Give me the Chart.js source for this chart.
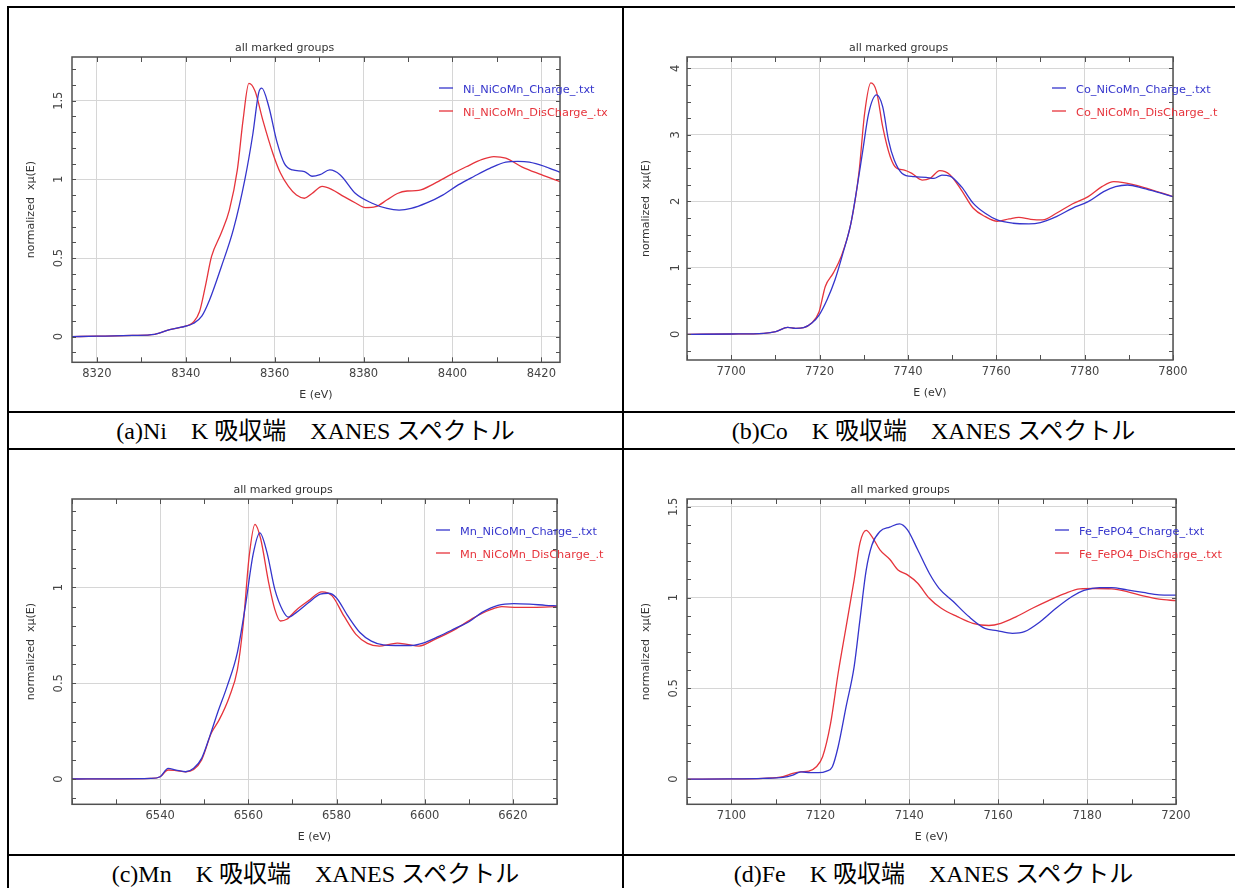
<!DOCTYPE html>
<html>
<head>
<meta charset="utf-8">
<title>XANES spectra</title>
<script src="https://cdn.jsdelivr.net/npm/chart.js@4.4.0/dist/chart.umd.min.js"></script>
<style>
  body { margin: 0; background: #fff; width: 1235px; height: 888px; overflow: hidden; position: relative; }
  .rule { position: absolute; background: #000; }
  canvas { position: absolute; }
  .cap { position: absolute; text-align: center; white-space: pre; color: #000;
         font-family: "Liberation Serif", "Noto Sans CJK JP", serif; font-size: 24px; line-height: 24px; }
</style>
</head>
<body>
<div class="rule" style="left:7px;top:6px;width:1228px;height:2px"></div>
<div class="rule" style="left:7px;top:6px;width:2px;height:882px"></div>
<div class="rule" style="left:622px;top:6px;width:2px;height:882px"></div>
<div class="rule" style="left:7px;top:411px;width:1228px;height:2px"></div>
<div class="rule" style="left:7px;top:448px;width:1228px;height:2px"></div>
<div class="rule" style="left:7px;top:854px;width:1228px;height:2px"></div>

<canvas id="ni" width="613" height="403" style="left:9px;top:8px"></canvas>
<canvas id="co" width="611" height="403" style="left:624px;top:8px"></canvas>
<canvas id="mn" width="613" height="404" style="left:9px;top:450px"></canvas>
<canvas id="fe" width="611" height="404" style="left:624px;top:450px"></canvas>

<div class="cap" style="left:9px;width:613px;top:419px">(a)Ni　K 吸収端　XANES スペクトル</div>
<div class="cap" style="left:624px;width:619px;top:419px">(b)Co　K 吸収端　XANES スペクトル</div>
<div class="cap" style="left:9px;width:613px;top:862px">(c)Mn　K 吸収端　XANES スペクトル</div>
<div class="cap" style="left:624px;width:619px;top:862px">(d)Fe　K 吸収端　XANES スペクトル</div>

<script>
// ---- data ----
var niTicksX = [8320, 8340, 8360, 8380, 8400, 8420];
var niTicksY = [0, 0.5, 1, 1.5];
var niLabels = ['Ni_NiCoMn_Charge_.txt', 'Ni_NiCoMn_DisCharge_.tx'];
var niChargeE = [8314.4, 8320, 8328, 8333, 8336.4, 8339, 8341.8, 8343.6, 8345.3, 8348, 8350.7, 8353.3, 8355.1, 8356.4, 8357.1, 8358.7, 8360.4, 8362.2, 8364, 8366.7, 8368.4, 8370.2, 8372.4, 8374.7, 8378.2, 8381.8, 8385.3, 8388, 8390.7, 8394.2, 8397.8, 8401.3, 8404.9, 8408.4, 8412, 8414.7, 8417.3, 8421, 8424.2];
var niChargeMu = [0, 0.003, 0.008, 0.015, 0.045, 0.06, 0.085, 0.13, 0.23, 0.445, 0.68, 1.0, 1.29, 1.55, 1.58, 1.46, 1.25, 1.10, 1.06, 1.05, 1.02, 1.03, 1.06, 1.03, 0.91, 0.85, 0.815, 0.805, 0.815, 0.85, 0.90, 0.965, 1.02, 1.07, 1.11, 1.115, 1.11, 1.08, 1.045];
var niDisE = [8314.4, 8320, 8328, 8333, 8336.4, 8339, 8341.8, 8343.1, 8344.4, 8345.8, 8348, 8349.8, 8351.6, 8352.9, 8354.2, 8355.6, 8357.3, 8359.6, 8361.3, 8363.1, 8364.9, 8366.7, 8368.4, 8370.7, 8372.9, 8375.6, 8378.2, 8380.4, 8382.7, 8385.3, 8387.6, 8389.8, 8392.4, 8396, 8399.6, 8403.1, 8406.7, 8409.3, 8412, 8415.6, 8420, 8424.2];
var niDisMu = [0, 0.003, 0.008, 0.015, 0.045, 0.06, 0.095, 0.16, 0.32, 0.51, 0.66, 0.805, 1.06, 1.38, 1.61, 1.56, 1.38, 1.165, 1.04, 0.955, 0.90, 0.88, 0.91, 0.955, 0.935, 0.89, 0.85, 0.82, 0.826, 0.87, 0.91, 0.926, 0.93, 0.975, 1.03, 1.08, 1.127, 1.145, 1.135, 1.08, 1.03, 0.985];

var coTicksX = [7700, 7720, 7740, 7760, 7780, 7800];
var coTicksY = [0, 1, 2, 3, 4];
var coLabels = ['Co_NiCoMn_Charge_.txt', 'Co_NiCoMn_DisCharge_.t'];
var coChargeE = [7690, 7700, 7707.4, 7710.1, 7712.8, 7714.6, 7716.4, 7718.2, 7719.9, 7721.7, 7723.5, 7725.3, 7727.1, 7728.4, 7729.8, 7731.1, 7732.9, 7734.3, 7735.6, 7736.9, 7738.7, 7741.4, 7744.1, 7745.9, 7747.7, 7749.5, 7752.1, 7754.8, 7757.5, 7760.2, 7763.8, 7767.4, 7770, 7773.6, 7777.2, 7780.8, 7784.3, 7787, 7789.7, 7793.3, 7796.9, 7800];
var coChargeMu = [0, 0.005, 0.015, 0.04, 0.105, 0.09, 0.10, 0.165, 0.29, 0.52, 0.82, 1.22, 1.67, 2.17, 2.77, 3.32, 3.6, 3.42, 2.92, 2.62, 2.42, 2.37, 2.36, 2.345, 2.395, 2.38, 2.22, 1.97, 1.82, 1.72, 1.67, 1.66, 1.68, 1.77, 1.895, 1.995, 2.145, 2.22, 2.245, 2.195, 2.13, 2.07];
var coDisE = [7690, 7700, 7707.4, 7710.1, 7712.8, 7714.6, 7716.4, 7718.2, 7719.9, 7721.3, 7723.1, 7724.9, 7727.1, 7728.9, 7730.2, 7731.6, 7732.9, 7734.3, 7736, 7737.4, 7739.2, 7740.9, 7743.2, 7745, 7747.2, 7749.5, 7752.1, 7754.8, 7757.5, 7760.2, 7762.9, 7765.1, 7767.8, 7770.5, 7773.6, 7777.2, 7780.8, 7783.9, 7786.6, 7788.8, 7793.3, 7800];
var coDisMu = [0, 0.005, 0.015, 0.04, 0.105, 0.09, 0.10, 0.17, 0.34, 0.72, 0.92, 1.17, 1.67, 2.42, 3.32, 3.78, 3.65, 3.12, 2.67, 2.50, 2.47, 2.42, 2.32, 2.345, 2.46, 2.40, 2.17, 1.895, 1.77, 1.70, 1.735, 1.76, 1.73, 1.72, 1.82, 1.96, 2.07, 2.22, 2.295, 2.28, 2.21, 2.07];

var mnTicksX = [6540, 6560, 6580, 6600, 6620];
var mnTicksY = [0, 0.5, 1];
var mnLabels = ['Mn_NiCoMn_Charge_.txt', 'Mn_NiCoMn_DisCharge_.t'];
var mnChargeE = [6520, 6530, 6537.8, 6540, 6541.8, 6543.6, 6545.8, 6547.6, 6549.4, 6551.2, 6553, 6555.2, 6557.5, 6559.3, 6561.1, 6562.6, 6564.2, 6566, 6567.8, 6569.1, 6570.9, 6573.6, 6576.3, 6578.1, 6579.9, 6582.6, 6585.3, 6587.9, 6590.6, 6593.3, 6596.9, 6599.6, 6603.2, 6606.8, 6610.3, 6613, 6616.6, 6620.2, 6623.8, 6627.4, 6630];
var mnChargeMu = [0, 0.001, 0.003, 0.012, 0.056, 0.047, 0.038, 0.056, 0.108, 0.22, 0.345, 0.485, 0.66, 0.90, 1.175, 1.285, 1.185, 0.99, 0.88, 0.845, 0.87, 0.92, 0.965, 0.97, 0.948, 0.85, 0.765, 0.72, 0.70, 0.697, 0.697, 0.71, 0.745, 0.785, 0.825, 0.87, 0.907, 0.916, 0.913, 0.907, 0.904];
var mnDisE = [6520, 6530, 6537.8, 6540, 6541.8, 6543.6, 6545.8, 6547.6, 6549.4, 6551.6, 6553.4, 6555.7, 6557.5, 6558.8, 6560.2, 6561.5, 6562.8, 6564.6, 6566, 6567.3, 6568.7, 6570.9, 6573.6, 6576.7, 6579, 6581.7, 6584.4, 6587, 6589.7, 6592, 6593.8, 6596, 6598.7, 6602.3, 6606.8, 6611.2, 6614.8, 6617.5, 6621.1, 6624.7, 6630];
var mnDisMu = [0, 0.001, 0.003, 0.012, 0.047, 0.044, 0.038, 0.05, 0.10, 0.24, 0.31, 0.43, 0.57, 0.80, 1.166, 1.33, 1.253, 1.026, 0.886, 0.825, 0.834, 0.883, 0.93, 0.977, 0.956, 0.85, 0.755, 0.708, 0.694, 0.703, 0.71, 0.703, 0.694, 0.729, 0.78, 0.843, 0.883, 0.90, 0.896, 0.896, 0.90];

var feTicksX = [7100, 7120, 7140, 7160, 7180, 7200];
var feTicksY = [0, 0.5, 1, 1.5];
var feLabels = ['Fe_FePO4_Charge_.txt', 'Fe_FePO4_DisCharge_.txt'];
var feChargeE = [7090, 7100, 7107.1, 7111.6, 7113.8, 7115.6, 7117.8, 7119.6, 7121.4, 7122.7, 7124, 7125.8, 7127.6, 7128.9, 7130.3, 7131.6, 7133.4, 7135.6, 7137.8, 7139.6, 7141.9, 7144.5, 7146.7, 7149.9, 7153.4, 7157, 7159.7, 7163.2, 7165.9, 7169.5, 7173, 7176.6, 7179.3, 7182.8, 7185.5, 7189, 7192.6, 7196.2, 7200];
var feChargeMu = [0, 0.001, 0.004, 0.009, 0.022, 0.04, 0.035, 0.035, 0.044, 0.068, 0.178, 0.40, 0.62, 0.877, 1.15, 1.29, 1.364, 1.388, 1.406, 1.373, 1.263, 1.134, 1.051, 0.978, 0.895, 0.83, 0.818, 0.803, 0.812, 0.868, 0.941, 1.006, 1.039, 1.055, 1.055, 1.042, 1.028, 1.015, 1.013];
var feDisE = [7090, 7100, 7107.1, 7111.6, 7113.8, 7115.6, 7117.4, 7119.1, 7120.5, 7122.3, 7124, 7125.8, 7127.6, 7128.9, 7130.3, 7131.6, 7133.4, 7135.6, 7137.4, 7139.6, 7141.9, 7144.5, 7147.2, 7150.8, 7154.3, 7157.9, 7160.6, 7164.1, 7167.7, 7171.2, 7174.8, 7178.4, 7181.9, 7185.5, 7189, 7192.6, 7196.2, 7200];
var feDisMu = [0, 0.001, 0.004, 0.013, 0.031, 0.04, 0.044, 0.068, 0.123, 0.307, 0.583, 0.84, 1.097, 1.30, 1.37, 1.336, 1.263, 1.211, 1.153, 1.125, 1.079, 0.996, 0.941, 0.895, 0.858, 0.846, 0.858, 0.895, 0.941, 0.982, 1.02, 1.048, 1.05, 1.048, 1.033, 1.009, 0.991, 0.983];

var BLUE = '#3535cc';
var RED = '#e6343c';
var FONT = '"DejaVu Sans", sans-serif';

function pairs(xs, ys) {
  return xs.map(function (x, i) { return { x: x, y: ys[i] }; });
}

// frame with inward ticks on all four sides + legend drawn inside the plot
var framePlugin = {
  id: 'frame',
  afterDraw: function (chart) {
    var o = chart.options.plugins.frame;
    var ctx = chart.ctx, a = chart.chartArea;
    var xs = chart.scales.x, ys = chart.scales.y;
    ctx.save();
    ctx.strokeStyle = '#505050';
    ctx.lineWidth = 1;
    ctx.beginPath();
    for (var i = Math.ceil(xs.min / o.xStep); i * o.xStep <= xs.max + 1e-9; i++) {
      var px = Math.round(xs.getPixelForValue(i * o.xStep)) + 0.5;
      ctx.moveTo(px, a.top); ctx.lineTo(px, a.top + 5);
      ctx.moveTo(px, a.bottom); ctx.lineTo(px, a.bottom - 5);
    }
    for (var j = Math.ceil(ys.min / o.yStep); j * o.yStep <= ys.max + 1e-9; j++) {
      var py = Math.round(ys.getPixelForValue(j * o.yStep)) + 0.5;
      ctx.moveTo(a.left, py); ctx.lineTo(a.left + 4, py);
      ctx.moveTo(a.right, py); ctx.lineTo(a.right - 4, py);
    }
    ctx.stroke();
    ctx.lineWidth = 1.5;
    ctx.strokeRect(a.left, a.top, a.right - a.left, a.bottom - a.top);

    ctx.font = '11.3px ' + FONT;
    ctx.textBaseline = 'middle';
    ctx.textAlign = 'left';
    chart.data.datasets.forEach(function (ds, k) {
      var yy = a.top + 31 + k * 23;
      ctx.strokeStyle = ds.borderColor;
      ctx.lineWidth = 1.3;
      ctx.beginPath();
      ctx.moveTo(a.right - 121, yy); ctx.lineTo(a.right - 107, yy);
      ctx.stroke();
      ctx.fillStyle = ds.borderColor;
      ctx.fillText(ds.label, a.right - 97, yy + 2);
    });
    ctx.restore();
  }
};

function makeChart(id, p) {
  var canvas = document.getElementById(id);
  var H = canvas.height;
  return new Chart(canvas, {
    type: 'line',
    data: {
      datasets: [
        { label: p.labels[0], data: pairs(p.e1, p.m1), borderColor: BLUE },
        { label: p.labels[1], data: pairs(p.e2, p.m2), borderColor: RED }
      ]
    },
    options: {
      responsive: false,
      animation: false,
      events: [],
      layout: { padding: { left: 0, top: 0, bottom: 0, right: p.padRight } },
      elements: {
        point: { radius: 0 },
        line: { borderWidth: 1.3, cubicInterpolationMode: 'monotone', fill: false }
      },
      plugins: {
        legend: { display: false },
        tooltip: { enabled: false },
        title: {
          display: true, text: 'all marked groups', color: '#333',
          font: { family: FONT, size: 11, weight: 'normal' },
          padding: { top: 33.4, bottom: 2.4 }
        },
        frame: { xStep: 10, yStep: p.yStep }
      },
      scales: {
        x: {
          type: 'linear', min: p.xMin, max: p.xMax,
          afterBuildTicks: function (s) { s.ticks = p.ticksX.map(function (v) { return { value: v }; }); },
          afterFit: function (s) { s.height = H - p.bottom; },
          grid: { color: '#d6d6d6', drawTicks: false, lineWidth: 1 },
          border: { display: false },
          ticks: {
            autoSkip: false, maxRotation: 0, padding: 5, color: '#444',
            font: { family: FONT, size: 11.5 },
            callback: function (v) { return String(v); }
          },
          title: {
            display: true, text: 'E (eV)', color: '#333',
            font: { family: FONT, size: 11 },
            padding: { top: 0, bottom: p.xTitlePad }
          }
        },
        y: {
          type: 'linear', min: p.yMin, max: p.yMax,
          afterBuildTicks: function (s) { s.ticks = p.ticksY.map(function (v) { return { value: v }; }); },
          afterFit: function (s) { s.width = 63; },
          grid: { color: '#d6d6d6', drawTicks: false, lineWidth: 1 },
          border: { display: false },
          ticks: {
            autoSkip: false, minRotation: 90, maxRotation: 90, crossAlign: 'center',
            padding: p.yTickPad, color: '#444',
            font: { family: FONT, size: 11.5 },
            callback: function (v) { return String(v); }
          },
          title: {
            display: true, text: 'normalized  xμ(E)', color: '#333',
            font: { family: FONT, size: 11 },
            padding: { top: 16, bottom: 0 }
          }
        }
      }
    },
    plugins: [framePlugin]
  });
}

makeChart('ni', {
  labels: niLabels, e1: niChargeE, m1: niChargeMu, e2: niDisE, m2: niDisMu,
  ticksX: niTicksX, ticksY: niTicksY,
  xMin: 8314.4, xMax: 8424.2, yMin: -0.163, yMax: 1.778, yStep: 0.1,
  padRight: 62, bottom: 354.3, yTickPad: 3.6, xTitlePad: 9.4
});
makeChart('co', {
  labels: coLabels, e1: coChargeE, m1: coChargeMu, e2: coDisE, m2: coDisMu,
  ticksX: coTicksX, ticksY: coTicksY,
  xMin: 7690, xMax: 7800, yMin: -0.386, yMax: 4.17, yStep: 0.25,
  padRight: 62, bottom: 352, yTickPad: 7.8, xTitlePad: 11.7
});
makeChart('mn', {
  labels: mnLabels, e1: mnChargeE, m1: mnChargeMu, e2: mnDisE, m2: mnDisMu,
  ticksX: mnTicksX, ticksY: mnTicksY,
  xMin: 6520, xMax: 6630, yMin: -0.132, yMax: 1.462, yStep: 0.1,
  padRight: 65, bottom: 354.3, yTickPad: 3.6, xTitlePad: 10.7
});
makeChart('fe', {
  labels: feLabels, e1: feChargeE, m1: feChargeMu, e2: feDisE, m2: feDisMu,
  ticksX: feTicksX, ticksY: feTicksY,
  xMin: 7090, xMax: 7200, yMin: -0.139, yMax: 1.543, yStep: 0.1,
  padRight: 59, bottom: 354.3, yTickPad: 3.6, xTitlePad: 10.7
});
</script>
</body>
</html>
